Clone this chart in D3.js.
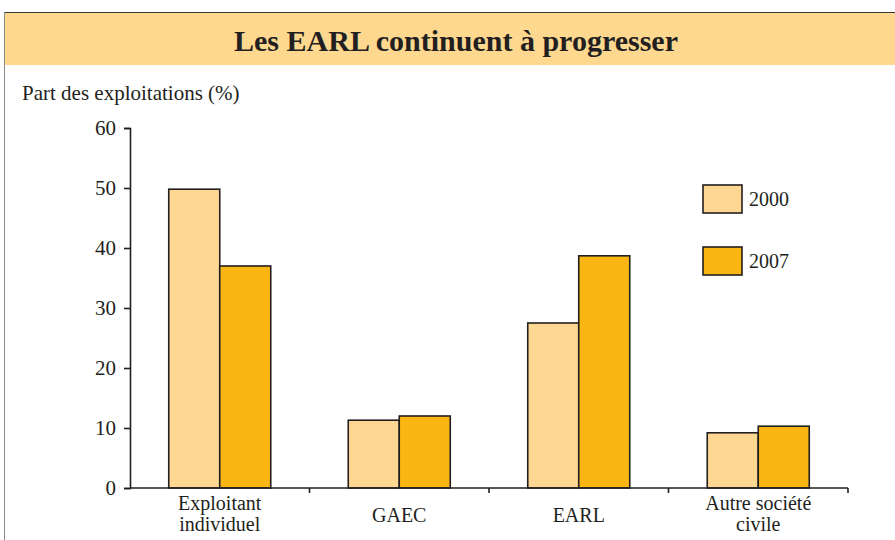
<!DOCTYPE html>
<html>
<head>
<meta charset="utf-8">
<script src="https://cdn.jsdelivr.net/npm/d3@7"></script>
<style>
  body { margin: 0; background: #fff; }
  svg text { font-family: "Liberation Serif", "Times New Roman", serif; }
</style>
</head>
<body>
<div id="chart"></div>
<script>
const categories = [["Exploitant", "individuel"], ["GAEC"], ["EARL"], ["Autre société", "civile"]];
const years = ["2000", "2007"];
const values2000 = [49.8, 11.3, 27.5, 9.2];
const values2007 = [37.0, 12.0, 38.7, 10.3];
const yTicks = [0, 10, 20, 30, 40, 50, 60];

const colors = { "2000": "#FED892", "2007": "#FBB614" };
const W = 895, H = 540;
const FONT = "Liberation Serif";

const svg = d3.select("#chart").append("svg").attr("width", W).attr("height", H);

// frame + title band
svg.append("rect").attr("x", 4).attr("y", 12).attr("width", W).attr("height", 53).attr("fill", "#FED88F");
svg.append("line").attr("x1", 4).attr("x2", W).attr("y1", 12.5).attr("y2", 12.5).attr("stroke", "#3a3a3a").attr("stroke-width", 1.2);
svg.append("line").attr("x1", 4.5).attr("x2", 4.5).attr("y1", 12).attr("y2", H).attr("stroke", "#8a8a8a").attr("stroke-width", 1);
svg.append("text").attr("x", 456).attr("y", 51).attr("text-anchor", "middle")
  .attr("font-family", FONT).attr("font-weight", "bold").attr("font-size", 30).attr("fill", "#231F20")
  .text("Les EARL continuent à progresser");

svg.append("text").attr("x", 22).attr("y", 100).attr("font-family", FONT).attr("font-size", 21).attr("fill", "#231F20")
  .text("Part des exploitations (%)");

const x0 = 130, x1 = 848, yTop = 128, yBot = 488;
const data = categories.map((c, i) => ({ idx: i, label: c, v: { "2000": values2000[i], "2007": values2007[i] } }));

const x = d3.scaleBand().domain(d3.range(categories.length)).range([x0, x1]).paddingInner(0).paddingOuter(0);
const xs = d3.scaleBand().domain(years).range([0, 102]);
const y = d3.scaleLinear().domain([0, 60]).range([yBot, yTop]);

// bars
const g = svg.append("g");
data.forEach(d => {
  const gx = x(d.idx) + x.bandwidth() / 2 - 51;
  g.selectAll(null).data(years).enter().append("rect")
    .attr("x", k => gx + xs(k))
    .attr("y", k => y(d.v[k]))
    .attr("width", xs.bandwidth())
    .attr("height", k => y(0) - y(d.v[k]))
    .attr("fill", k => colors[k])
    .attr("stroke", "#231F20").attr("stroke-width", 1.6);
});

// y axis
const yAxis = d3.axisLeft(y).tickValues(yTicks).tickSize(6).tickPadding(8);
const ya = svg.append("g").attr("transform", `translate(${x0},0)`).call(yAxis);
ya.attr("font-family", FONT);
ya.select(".domain").attr("stroke", "#231F20").attr("stroke-width", 1.6);
ya.selectAll(".tick line").attr("stroke", "#231F20").attr("stroke-width", 1.6);
ya.selectAll(".tick text").attr("font-size", 21).attr("fill", "#231F20");

// x axis
svg.append("line").attr("x1", x0).attr("x2", x1).attr("y1", yBot).attr("y2", yBot)
  .attr("stroke", "#231F20").attr("stroke-width", 1.6);
svg.selectAll(".xtick").data(d3.range(1, categories.length + 1)).enter().append("line")
  .attr("x1", i => i < categories.length ? x(i) : x1).attr("x2", i => i < categories.length ? x(i) : x1)
  .attr("y1", yBot).attr("y2", yBot + 5)
  .attr("stroke", "#231F20").attr("stroke-width", 1.6);

const labels = svg.selectAll(".xlab").data(data).enter().append("text")
  .attr("text-anchor", "middle").attr("font-family", FONT).attr("font-size", 20).attr("fill", "#231F20")
  .attr("x", d => x(d.idx) + x.bandwidth() / 2)
  .attr("y", d => d.label.length > 1 ? 510 : 522);
labels.selectAll("tspan").data(d => d.label).enter().append("tspan")
  .attr("x", function () { return d3.select(this.parentNode).attr("x"); })
  .attr("dy", (t, i) => i === 0 ? 0 : 21)
  .text(t => t);

// legend
const legend = svg.append("g");
years.forEach((k, i) => {
  const ly = 185 + i * 62;
  legend.append("rect").attr("x", 703).attr("y", ly).attr("width", 39).attr("height", 28)
    .attr("fill", colors[k]).attr("stroke", "#231F20").attr("stroke-width", 1.6);
  legend.append("text").attr("x", 749).attr("y", ly + 21).attr("font-family", FONT).attr("font-size", 20).attr("fill", "#231F20").text(k);
});
</script>
</body>
</html>
